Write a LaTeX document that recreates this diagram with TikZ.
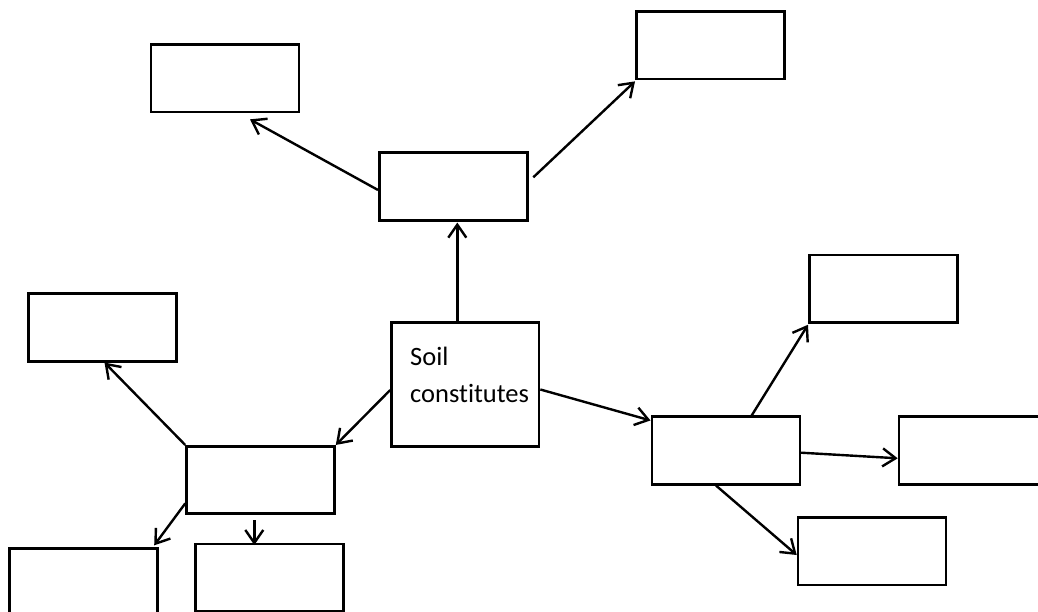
\documentclass[tikz,border=0pt]{standalone}
\usepackage{fontspec}
\setmainfont[Ligatures=NoCommon]{Carlito}
\usetikzlibrary{arrows.meta}
\begin{document}
\begin{tikzpicture}[x=1pt,y=-1pt,
  box/.style={draw=black, line width=2.6pt, fill=white, minimum width=148pt, minimum height=67.5pt, inner sep=0pt},
  arr/.style={draw=black, line width=2.4pt, -{Straight Barb[length=13pt,width=18pt,line width=2.4pt]}}]
\path[use as bounding box, clip] (0,0) rectangle (1038,612);
\fill[white] (0,0) rectangle (1038,612);
% boxes
\node[box] (tl) at (225,78.3) {};
\node[box] (tr) at (710.3,45.3) {};
\node[box] (mt) at (453.3,186.5) {};
\node[box, minimum width=147.5pt, minimum height=124.4pt] (c) at (465.3,384.5) {};
\node[anchor=base west, align=left, font=\fontsize{26.5}{37}\selectfont, inner sep=0pt] (ct) at (410,402.7) {Soil\\constitutes};
\node[box] (l) at (102.5,327.5) {};
\node[box] (lm) at (260.5,480) {};
\node[box] (bl) at (83.3,582) {};
\node[box] (bm) at (269.7,577.7) {};
\node[box] (r) at (725.8,450.5) {};
\node[box] (rt) at (883.3,288.7) {};
\node[box] (rr) at (973,450.5) {};
\node[box] (rb) at (872,551.3) {};
% connectors
\draw[arr] ([xshift=-8pt]c.north) -- ([xshift=4pt,yshift=-1pt]mt.south);
\draw[arr] ([yshift=-3.5pt]mt.west) -- ([xshift=25pt,yshift=-6pt]tl.south);
\draw[arr] ([xshift=4.7pt,yshift=9.2pt]mt.east) -- ([yshift=-1pt]tr.south west);
\draw[arr] ([yshift=-5.5pt]c.west) -- (lm.north east);
\draw[arr] ([yshift=-5pt]c.east) -- ([yshift=-5pt]r.north west);
\draw[arr] (lm.north west) -- ([xshift=2pt]l.south);
\draw[arr] ([yshift=11.6pt]lm.south west) -- ([xshift=-4.4pt,yshift=1.6pt]bl.north east);
\draw[arr] ([xshift=-6.2pt,yshift=-5pt]lm.south) -- ([xshift=-15.4pt,yshift=-2.4pt]bm.north);
\draw[arr] ([xshift=25.9pt]r.north) -- ([yshift=-1pt]rt.south west);
\draw[arr] ([yshift=-2.2pt]r.east) -- ([yshift=-7.8pt]rr.west);
\draw[arr] ([xshift=-9.8pt]r.south) -- ([yshift=-3.7pt]rb.west);
\end{tikzpicture}
\end{document}
